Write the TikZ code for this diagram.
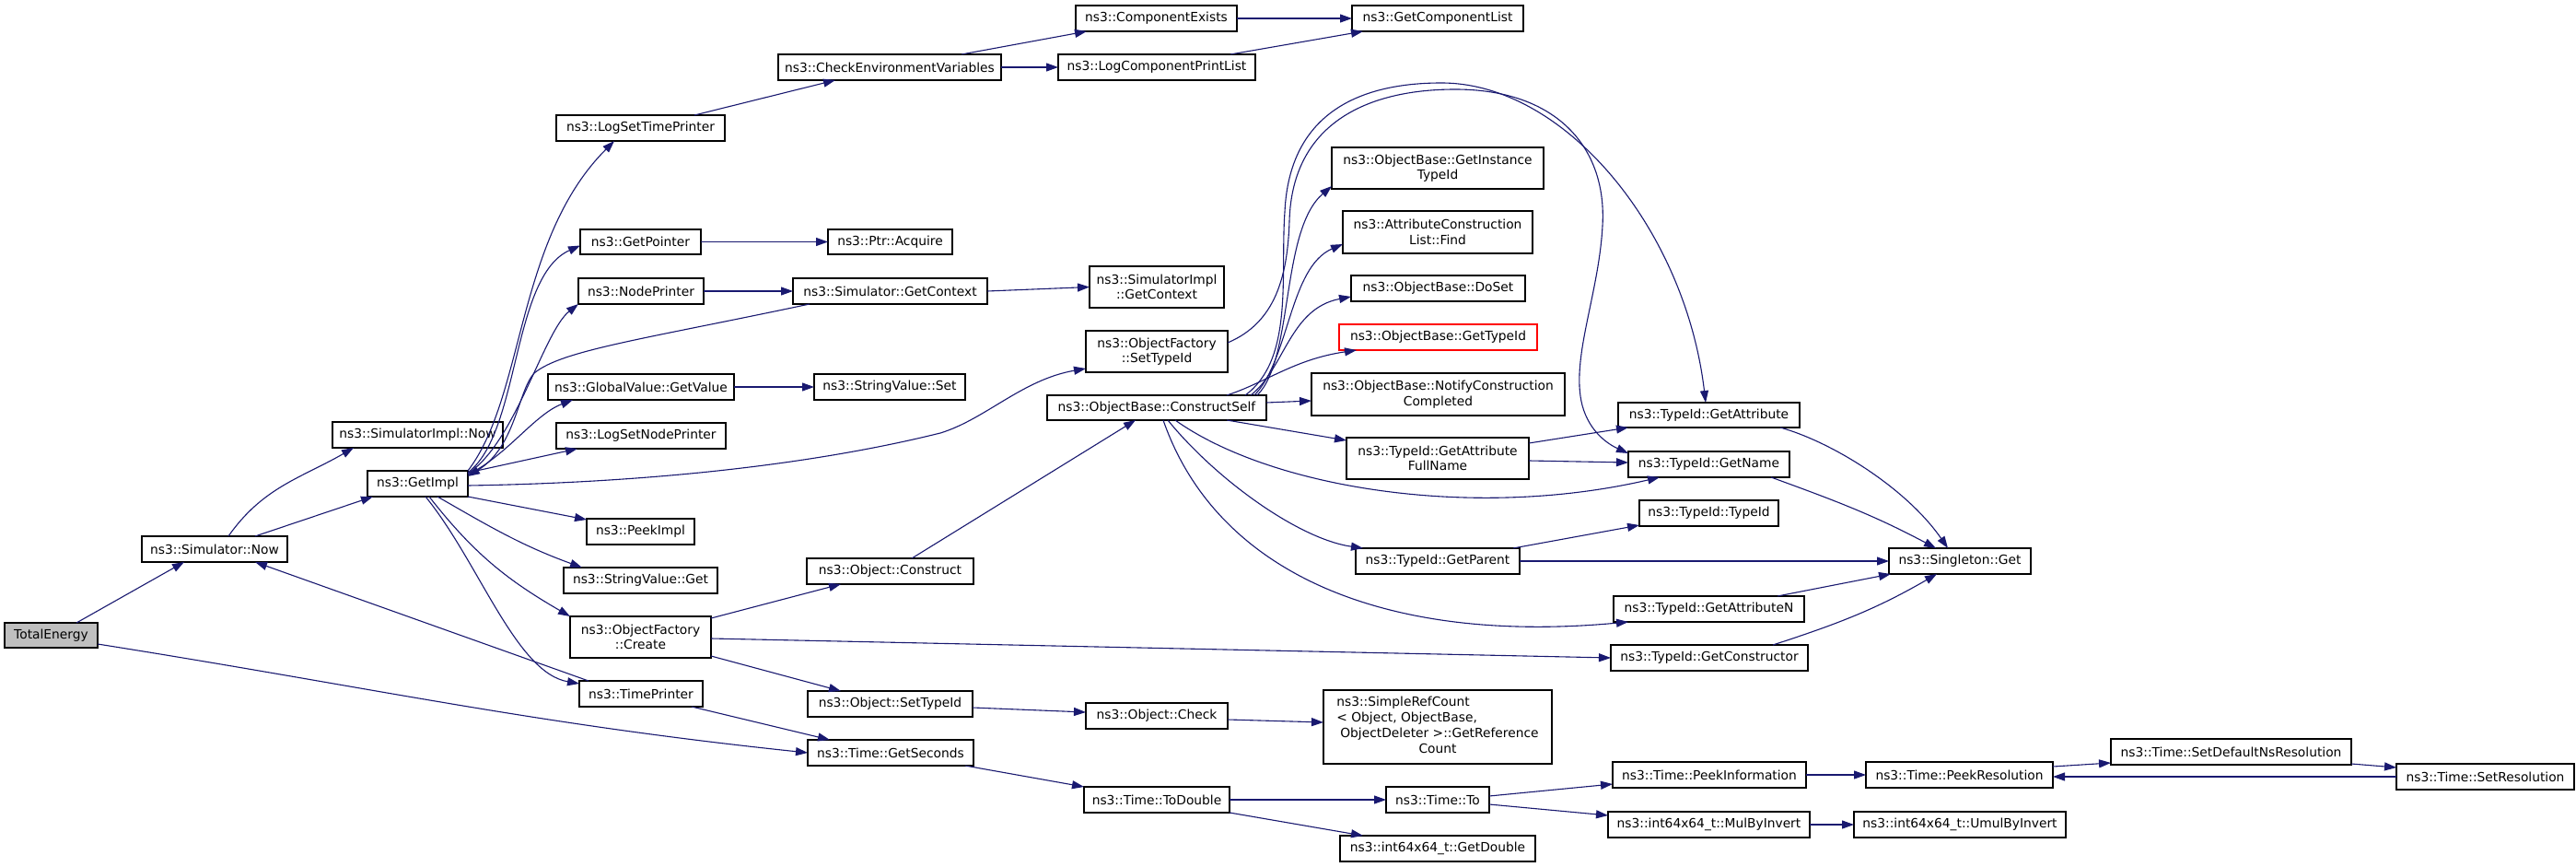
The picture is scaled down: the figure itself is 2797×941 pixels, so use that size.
\documentclass[tikz,border=0pt]{standalone}
\usepackage{fontspec}
\setmainfont{DejaVu Sans}
\usetikzlibrary{arrows.meta}
\definecolor{edgec}{RGB}{25,25,112}
\definecolor{rootfill}{RGB}{191,191,191}
\newcommand\bx[7][]{\node[nbox,#1,minimum width={(#5-#3)*1pt},minimum height={(#6-#4)*1pt}] (#2) at ({(#3+#5)/2},{(#4+#6)/2}) {#7};}
\begin{document}
\begin{tikzpicture}[x=1pt,y=-1pt,
  nbox/.style={draw=black,line width=1.1pt,fill=white,inner sep=0pt,outer sep=0pt,align=center,font=\fontsize{13.8}{16.5}\selectfont},
  edg/.style={draw=edgec,line width=1.1pt,-{Triangle[length=13pt,width=9pt]}}]
\fill[white] (0,0) rectangle (2797,941);
\useasboundingbox (0,0) rectangle (2797,941);
% nodes
\bx[fill=rootfill]{te}{5}{676}{106}{703}{TotalEnergy}
\bx{snow}{154}{582}{312}{610}{ns3::Simulator::Now}
\bx{sinow}{361}{458}{546}{486}{ns3::SimulatorImpl::Now}
\bx{gimpl}{399}{511}{508}{539}{ns3::GetImpl}
\bx{lstp}{604}{125}{787}{153}{ns3::LogSetTimePrinter}
\bx{gptr}{630}{249}{761}{276}{ns3::GetPointer}
\bx{nprn}{628}{302}{764}{330}{ns3::NodePrinter}
\bx{gvgv}{595}{406}{797}{434}{ns3::GlobalValue::GetValue}
\bx{lsnp}{604}{459}{788}{487}{ns3::LogSetNodePrinter}
\bx{pimpl}{637}{563}{754}{591}{ns3::PeekImpl}
\bx{svget}{612}{616}{779}{644}{ns3::StringValue::Get}
\bx{ofc}{619}{669}{772}{714}{ns3::ObjectFactory\\::Create}
\bx{tprn}{629}{739}{763}{767}{ns3::TimePrinter}
\bx{cexist}{1168}{6}{1343}{34}{ns3::ComponentExists}
\bx{cenv}{845}{59}{1087}{87}{ns3::CheckEnvironmentVariables}
\bx{lcpl}{1149}{59}{1363}{87}{ns3::LogComponentPrintList}
\bx{gcl}{1468}{6}{1654}{34}{ns3::GetComponentList}
\bx{pacq}{899}{249}{1034}{276}{ns3::Ptr::Acquire}
\bx{sgc}{861}{302}{1072}{330}{ns3::Simulator::GetContext}
\bx{sigc}{1183}{289}{1329}{334}{ns3::SimulatorImpl\\::GetContext}
\bx{ofst}{1179}{359}{1333}{404}{ns3::ObjectFactory\\::SetTypeId}
\bx{svset}{884}{406}{1048}{434}{ns3::StringValue::Set}
\bx{cself}{1137}{429}{1375}{456}{ns3::ObjectBase::ConstructSelf}
\bx{ocons}{876}{606}{1057}{634}{ns3::Object::Construct}
\bx{ostid}{877}{750}{1056}{778}{ns3::Object::SetTypeId}
\bx{ochk}{1179}{763}{1333}{791}{ns3::Object::Check}
\bx{gsec}{877}{803}{1057}{831}{ns3::Time::GetSeconds}
\bx{todbl}{1177}{854}{1335}{882}{ns3::Time::ToDouble}
\bx{gitid}{1446}{160}{1676}{205}{ns3::ObjectBase::GetInstance\\TypeId}
\bx{acfind}{1458}{229}{1664}{275}{ns3::AttributeConstruction\\List::Find}
\bx{doset}{1467}{299}{1656}{327}{ns3::ObjectBase::DoSet}
\bx[draw=red]{gtid}{1454}{352}{1669}{380}{ns3::ObjectBase::GetTypeId}
\bx{ncc}{1424}{405}{1699}{451}{ns3::ObjectBase::NotifyConstruction\\Completed}
\bx{gattr}{1757}{437}{1954}{464}{ns3::TypeId::GetAttribute}
\bx{gafn}{1462}{475}{1660}{520}{ns3::TypeId::GetAttribute\\FullName}
\bx{gname}{1768}{490}{1943}{518}{ns3::TypeId::GetName}
\bx{tidtid}{1780}{543}{1931}{571}{ns3::TypeId::TypeId}
\bx{gpar}{1472}{595}{1650}{623}{ns3::TypeId::GetParent}
\bx{sget}{2051}{595}{2205}{623}{ns3::Singleton::Get}
\bx{gattrn}{1752}{647}{1959}{675}{ns3::TypeId::GetAttributeN}
\bx{gctor}{1749}{700}{1963}{728}{ns3::TypeId::GetConstructor}
\bx{srefc}{1437}{749}{1685}{829}{\renewcommand{\arraystretch}{1.03}\begin{tabular}{@{}l@{}}ns3::SimpleRefCount\\< Object, ObjectBase,\\\hspace{4pt}ObjectDeleter >::GetReference\\\multicolumn{1}{@{}c@{}}{Count}\end{tabular}}
\bx{tto}{1505}{854}{1617}{882}{ns3::Time::To}
\bx{pinfo}{1751}{827}{1961}{855}{ns3::Time::PeekInformation}
\bx{mbi}{1746}{881}{1965}{909}{ns3::int64x64\_t::MulByInvert}
\bx{gdbl}{1455}{907}{1667}{935}{ns3::int64x64\_t::GetDouble}
\bx{pres}{2026}{827}{2229}{855}{ns3::Time::PeekResolution}
\bx{umbi}{2013}{881}{2243}{909}{ns3::int64x64\_t::UmulByInvert}
\bx{sdnr}{2292}{802}{2553}{830}{ns3::Time::SetDefaultNsResolution}
\bx{sres}{2602}{829}{2795}{857}{ns3::Time::SetResolution}
% edges
\draw[edg] ([xshift=78pt]te.north west) -- ([xshift=46pt]snow.south west);
\draw[edg] ([yshift=-9.5pt]te.east) to[out=-9,in=174] (gsec.west);
\draw[edg] ([xshift=94pt]snow.north west) to[out=55,in=-150] ([xshift=23pt]sinow.south west);
\draw[edg] ([xshift=123pt]snow.north west) -- ([xshift=6pt]gimpl.south west);
\draw[edg] ([xshift=10pt]tprn.north west) -- ([xshift=-35pt]snow.south east);
\draw[edg] (gimpl.north east) .. controls (570,430) and (560,260) .. ([xshift=63pt]lstp.south west);
\draw[edg] ([yshift=-2pt]gimpl.north east) .. controls (565,470) and (555,300) .. ([yshift=-4pt]gptr.west);
\draw[edg] ([yshift=-3pt]gimpl.north east) .. controls (560,480) and (590,360) .. (nprn.south west);
\draw[edg] ([yshift=-4pt]gimpl.north east) .. controls (550,495) and (580,450) .. ([xshift=27pt]gvgv.south west);
\draw[edg] ([yshift=-2pt]gimpl.north east) -- ([xshift=23pt]lsnp.south west);
\draw[edg] ([xshift=18pt]sgc.south west) .. controls (700,368) and (610,380) .. (580,405) .. controls (562,425) and (560,485) .. ([yshift=-6pt]gimpl.north east);
\draw[edg] ([yshift=-2pt]gimpl.east) .. controls (700,524) and (880,505) .. (1021,470) .. controls (1070,455) and (1110,412) .. ([yshift=4pt]ofst.south west);
\draw[edg] (gimpl.south east) -- ([yshift=13pt]pimpl.west);
\draw[edg] ([xshift=76pt]gimpl.south west) to[out=-30,in=160] ([xshift=20pt]svget.north west);
\draw[edg] ([xshift=67pt]gimpl.south west) to[out=-52,in=150] (ofc.north west);
\draw[edg] ([xshift=63pt]gimpl.south west) .. controls (520,610) and (560,730) .. ([yshift=-3pt]tprn.north west);
\draw[edg] ([xshift=-33pt]lstp.north east) -- ([xshift=62pt]cenv.south west);
\draw[edg] ([xshift=-43pt]cenv.north east) -- ([xshift=12pt]cexist.south west);
\draw[edg] (cenv.east) -- (lcpl.west);
\draw[edg] (cexist.east) -- (gcl.west);
\draw[edg] ([xshift=-27pt]lcpl.north east) -- ([xshift=12pt]gcl.south west);
\draw[edg] (gptr.east) -- (pacq.west);
\draw[edg] (nprn.east) -- (sgc.west);
\draw[edg] (sgc.east) -- (sigc.west);
\draw[edg] (gvgv.east) -- (svset.west);
\draw[edg] ([yshift=-2pt]ofc.north east) -- ([xshift=37pt]ocons.south west);
\draw[edg] ([yshift=-1.5pt]ofc.east) -- (gctor.west);
\draw[edg] ([yshift=2pt]ofc.south east) -- ([xshift=36pt]ostid.north west);
\draw[edg] ([xshift=-12pt]tprn.south east) -- ([xshift=24pt]gsec.north west);
\draw[edg] ([xshift=114pt]ocons.north west) -- ([xshift=96pt]cself.south west);
\draw[edg] ([yshift=-4pt]ostid.east) -- ([yshift=4pt]ochk.west);
\draw[edg] ([yshift=-4pt]ochk.east) -- ([yshift=5pt]srefc.west);
\draw[edg] ([xshift=-9pt]gsec.south east) -- (todbl.north west);
\draw[edg] (todbl.east) -- (tto.west);
\draw[edg] (todbl.south east) -- ([xshift=25pt]gdbl.north west);
\draw[edg] ([yshift=4pt]tto.east) -- ([yshift=-10pt]pinfo.west);
\draw[edg] ([yshift=-5pt]tto.east) -- ([yshift=10pt]mbi.west);
\draw[edg] (pinfo.east) -- (pres.west);
\draw[edg] (mbi.east) -- (umbi.west);
\draw[edg] ([yshift=9pt]pres.east) -- ([yshift=2pt]sdnr.south west);
\draw[edg] ([yshift=1pt]sdnr.south east) -- ([yshift=-4pt]sres.north west);
\draw[edg] (sres.west) -- ([yshift=-2pt]pres.east);
\draw[edg] ([yshift=5.5pt]cself.east) -- ([yshift=-7pt]ncc.west);
\draw[edg] ([xshift=-43pt]cself.south east) -- ([yshift=-3pt]gafn.north west);
\draw[edg] ([xshift=139pt]cself.south west) .. controls (1380,530) and (1600,565) .. ([xshift=34pt]gname.south west);
\draw[edg] ([xshift=131pt]cself.south west) .. controls (1320,520) and (1410,585) .. ([xshift=8pt]gpar.north west);
\draw[edg] ([xshift=126pt]cself.south west) .. controls (1320,620) and (1500,700) .. ([xshift=16pt]gattrn.south west);
\draw[edg] ([xshift=-10pt]cself.north east) .. controls (1405,390) and (1390,250) .. ([yshift=3pt]gitid.south west);
\draw[edg] ([xshift=-13pt]cself.north east) .. controls (1400,390) and (1400,290) .. ([yshift=-13pt]acfind.west);
\draw[edg] ([xshift=-17pt]cself.north east) .. controls (1395,400) and (1400,335) .. ([yshift=-9pt]doset.west);
\draw[edg] ([xshift=-43pt]cself.north east) .. controls (1375,415) and (1405,390) .. ([xshift=19pt]gtid.south west);
\draw[edg] ([xshift=-23pt]cself.north east) .. controls (1405,390) and (1390,300) .. (1395,230) .. controls (1400,120) and (1480,90) .. (1565,90) .. controls (1700,90) and (1830,250) .. ([xshift=95pt]gattr.north west);
\draw[edg] ([yshift=-13pt]ofst.north east) .. controls (1385,350) and (1398,300) .. (1400,240) .. controls (1403,130) and (1490,97) .. (1580,97) .. controls (1690,97) and (1745,160) .. (1740,245) .. controls (1736,320) and (1705,390) .. (1718,440) .. controls (1726,470) and (1748,483) .. ([yshift=-2pt]gname.north west);
\draw[edg] ([yshift=-6pt]gafn.north east) -- ([xshift=11pt]gattr.south west);
\draw[edg] ([yshift=-2.5pt]gafn.east) -- ([yshift=2pt]gname.west);
\draw[edg] ([xshift=-21pt]gattr.south east) .. controls (1990,480) and (2070,530) .. ([xshift=64pt]sget.north west);
\draw[edg] ([xshift=-20pt]gname.south east) to[out=-20,in=152] ([xshift=51pt]sget.north west);
\draw[edg] ([xshift=-7pt]gpar.north east) -- ([yshift=1pt]tidtid.south west);
\draw[edg] (gpar.east) -- (sget.west);
\draw[edg] ([xshift=-29pt]gattrn.north east) -- ([xshift=2pt]sget.south west);
\draw[edg] ([xshift=-38pt]gctor.north east) to[out=18,in=-150] ([xshift=52pt]sget.south west);
\end{tikzpicture}
\end{document}
